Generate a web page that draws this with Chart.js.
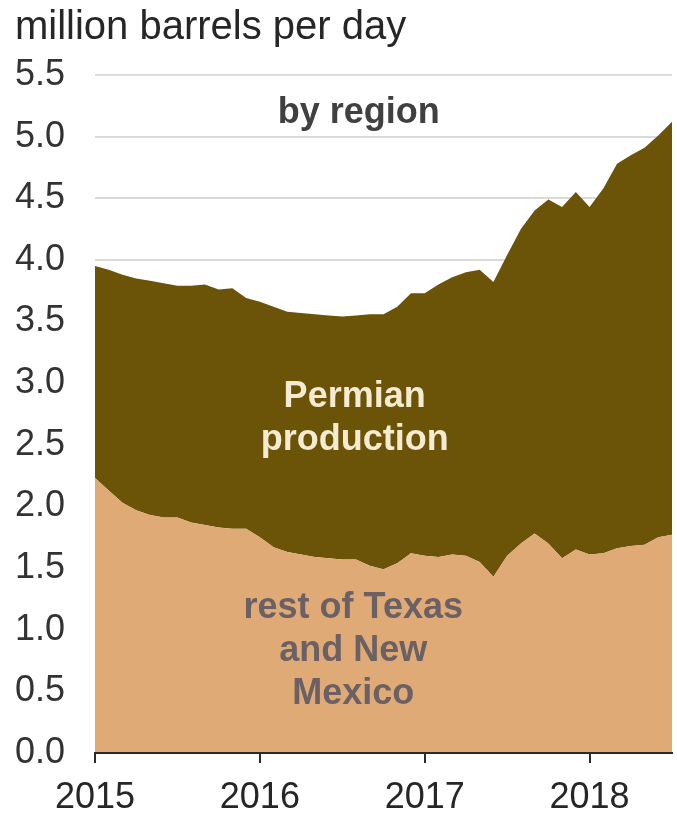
<!DOCTYPE html>
<html>
<head>
<meta charset="utf-8">
<script src="https://cdn.jsdelivr.net/npm/chart.js@4"></script>
<style>
    html, body { margin: 0; padding: 0; background: #ffffff; }
    canvas { display: block; }
</style>
</head>
<body>
<canvas id="productionChart" width="677" height="821"></canvas>
<script>
// Monthly categories, Jan 2015 - Jul 2018
const months = [
    '2015-01', '2015-02', '2015-03', '2015-04', '2015-05', '2015-06', '2015-07', '2015-08', '2015-09', '2015-10', '2015-11', '2015-12',
    '2016-01', '2016-02', '2016-03', '2016-04', '2016-05', '2016-06', '2016-07', '2016-08', '2016-09', '2016-10', '2016-11', '2016-12',
    '2017-01', '2017-02', '2017-03', '2017-04', '2017-05', '2017-06', '2017-07', '2017-08', '2017-09', '2017-10', '2017-11', '2017-12',
    '2018-01', '2018-02', '2018-03', '2018-04', '2018-05', '2018-06', '2018-07'
];

// million barrels per day
const restOfTexasNM = [
    2.23, 2.13, 2.03, 1.97, 1.93, 1.91, 1.91, 1.87, 1.85, 1.83, 1.82, 1.82,
    1.75, 1.67, 1.63, 1.61, 1.59, 1.58, 1.57, 1.57, 1.52, 1.49, 1.54, 1.62,
    1.60, 1.59, 1.61, 1.60, 1.55, 1.43, 1.60, 1.70, 1.78, 1.70, 1.58, 1.65,
    1.61, 1.62, 1.66, 1.68, 1.69, 1.75, 1.77
];
const permian = [
    1.72, 1.79, 1.85, 1.88, 1.90, 1.90, 1.88, 1.92, 1.95, 1.93, 1.95, 1.87,
    1.91, 1.95, 1.95, 1.96, 1.97, 1.97, 1.97, 1.98, 2.04, 2.07, 2.08, 2.11,
    2.13, 2.21, 2.25, 2.30, 2.37, 2.39, 2.44, 2.55, 2.62, 2.79, 2.85, 2.90,
    2.82, 2.96, 3.12, 3.17, 3.22, 3.26, 3.35
];

const yTicks = [0.0, 0.5, 1.0, 1.5, 2.0, 2.5, 3.0, 3.5, 4.0, 4.5, 5.0, 5.5];

// Text labels inside the chart (month index, value)
const areaLabels = [
    { lines: ['by region'], x: 19.2, y: 5.19, color: '#404040' },
    { lines: ['Permian', 'production'], x: 18.9, y: 2.71, color: '#f4ebd0' },
    { lines: ['rest of Texas', 'and New', 'Mexico'], x: 18.8, y: 0.83, color: '#6b6063' }
];

const FONT = "'Liberation Sans', Arial, sans-serif";

// Draw the in-chart labels on top of the areas
const areaLabelPlugin = {
    id: 'areaLabels',
    afterDatasetsDraw(chart) {
        const ctx = chart.ctx;
        const xs = chart.scales.x;
        const ys = chart.scales.y;
        const lineHeight = 43;
        ctx.save();
        ctx.font = 'bold 36px ' + FONT;
        ctx.textAlign = 'center';
        ctx.textBaseline = 'middle';
        areaLabels.forEach(label => {
            const cx = xs.getPixelForValue(label.x);
            const cy = ys.getPixelForValue(label.y);
            const startY = cy - (label.lines.length - 1) * lineHeight / 2;
            ctx.fillStyle = label.color;
            label.lines.forEach((line, i) => {
                ctx.fillText(line, cx, startY + i * lineHeight);
            });
        });
        ctx.restore();
    }
};

const canvas = document.getElementById('productionChart');
const chart = new Chart(canvas.getContext('2d'), {
    type: 'line',
    data: {
        labels: months,
        datasets: [
            {
                label: 'rest of Texas and New Mexico',
                data: restOfTexasNM,
                backgroundColor: '#e0aa76',
                borderWidth: 0,
                pointRadius: 0,
                fill: 'origin',
                tension: 0
            },
            {
                label: 'Permian production',
                data: permian,
                backgroundColor: '#6b5308',
                borderWidth: 0,
                pointRadius: 0,
                fill: '-1',
                tension: 0
            }
        ]
    },
    options: {
        responsive: false,
        animation: false,
        layout: {
            padding: { left: 15, right: 5, top: 0, bottom: 2 }
        },
        plugins: {
            legend: { display: false },
            tooltip: { enabled: false },
            title: {
                display: true,
                text: 'million barrels per day',
                align: 'start',
                color: '#262626',
                font: { family: FONT, size: 40, weight: 'normal' },
                padding: { top: 4, bottom: 23 }
            }
        },
        scales: {
            x: {
                type: 'category',
                offset: false,
                afterFit: axis => {
                    axis.paddingLeft = 0;
                    axis.paddingRight = 0;
                    axis.height = 66;
                },
                grid: {
                    drawOnChartArea: false,
                    tickLength: 10,
                    lineWidth: 2,
                    tickColor: ctx => (ctx.tick && months[ctx.index].endsWith('-01')) ? '#2b2b2b' : 'transparent'
                },
                border: { display: true, color: '#2b2b2b', width: 2, z: 1 },
                ticks: {
                    autoSkip: false,
                    maxRotation: 0,
                    padding: 13,
                    color: '#262626',
                    font: { family: FONT, size: 36 },
                    callback: (value, index) => months[index].endsWith('-01') ? months[index].slice(0, 4) : ''
                }
            },
            y: {
                stacked: true,
                min: 0,
                max: 5.5,
                afterBuildTicks: axis => {
                    axis.ticks = yTicks.map(v => ({ value: v }));
                },
                afterFit: axis => {
                    axis.width = 80;
                },
                grid: {
                    color: '#dadada',
                    lineWidth: 2,
                    drawTicks: false
                },
                border: { display: false },
                ticks: {
                    padding: 30,
                    color: '#333333',
                    font: { family: FONT, size: 36 },
                    callback: value => Number(value).toFixed(1)
                }
            }
        }
    },
    plugins: [areaLabelPlugin]
});
</script>
</body>
</html>
